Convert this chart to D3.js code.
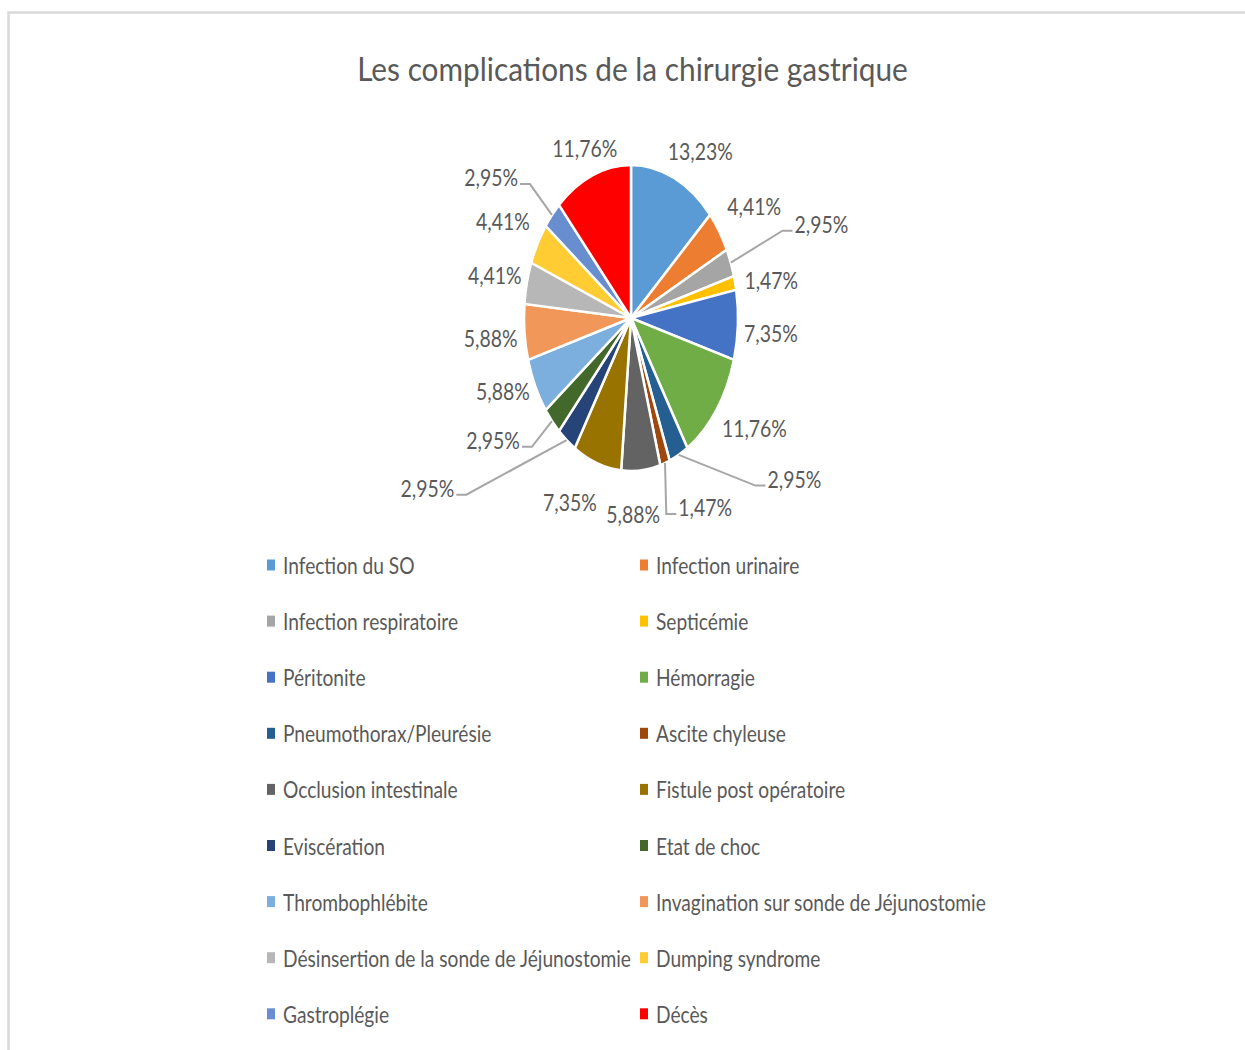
<!DOCTYPE html>
<html><head><meta charset="utf-8">
<script src="https://cdn.jsdelivr.net/npm/d3@7"></script>
<style>body{margin:0;background:#fff;overflow:hidden}</style>
</head><body><svg id="c" width="1245" height="1050"></svg>
<script>
const title = "Les complications de la chirurgie gastrique";
const categories = ["Infection du SO","Infection urinaire","Infection respiratoire","Septicémie","Péritonite","Hémorragie","Pneumothorax/Pleurésie","Ascite chyleuse","Occlusion intestinale","Fistule post opératoire","Eviscération","Etat de choc","Thrombophlébite","Invagination sur sonde de Jéjunostomie","Désinsertion de la sonde de Jéjunostomie","Dumping syndrome","Gastroplégie","Décès"];
const values = [13.23,4.41,2.95,1.47,7.35,11.76,2.95,1.47,5.88,7.35,2.95,2.95,5.88,5.88,4.41,4.41,2.95,11.76];
const colors = ["#5B9BD5","#ED7D31","#A5A5A5","#FFC000","#4472C4","#70AD47","#255E91","#9E480E","#636363","#997300","#264478","#43682B","#7CAFDD","#F1975A","#B7B7B7","#FFCD33","#698ED0","#FF0000"];

// layout (not data)
const labelNudges = [[12,-6],[6,-12],[58,-30],[2,3],[-2,8],[10,6],[100,5],[29,24],[-11,23],[-16,19],[-118,31],[-33,5],[-1,-4],[1,5],[2,-2],[-4,-11],[-35,-22],[5,-6]];
const leaderIdx = [2,6,7,10,11,16];

const svg = d3.select("#c");
const FONT = "Lato, 'Open Sans', sans-serif";
const TXT = "#595959";
const cx = 631, cy = 318, rx = 107, ry = 153;

// frame
svg.append("rect").attr("x",8.5).attr("y",12.5).attr("width",1300).attr("height",1100)
  .attr("fill","#fff").attr("stroke","#d9d9d9").attr("stroke-width",2.5);

function measure(str, size){
  const t = svg.append("text").attr("font-family",FONT).attr("font-size",size).text(str);
  const w = t.node().getComputedTextLength(); t.remove(); return w;
}
const TS = 33, LS = 24, GS = 22.5;
const sxTitle = 551 / measure(title, TS);
const sxLab = 65 / measure("13,23%", LS);
const sxLeg = (127 + 349 + 334) / (measure("Infection du SO", GS) + measure("Désinsertion de la sonde de Jéjunostomie", GS) + measure("Invagination sur sonde de Jéjunostomie", GS));

function addText(parent, str, x, y, size, sx, anchor){
  return parent.append("text").attr("transform",`translate(${x},${y}) scale(${sx},1)`)
    .attr("font-family",FONT).attr("font-size",size).attr("fill",TXT)
    .attr("text-anchor",anchor||"start").text(str);
}

addText(svg, title, 632.5, 81, TS, sxTitle, "middle");

// pie
const pie = d3.pie().sort(null).value(d=>d)(values);
const arc = d3.arc().innerRadius(0).outerRadius(ry);
const g = svg.append("g").attr("transform",`translate(${cx},${cy}) scale(${rx/ry},1)`);
g.selectAll("path").data(pie).join("path")
  .attr("d",arc).attr("fill",(d,i)=>colors[i])
  .attr("stroke","#fff").attr("stroke-width",2.5).attr("vector-effect","non-scaling-stroke");

// labels
const fmt = v => d3.format(".2f")(v).replace(".",",") + "%";
const lab = svg.append("g");
pie.forEach((a,i)=>{
  const th = (a.startAngle+a.endAngle)/2;
  const x = cx + (rx+35)*Math.sin(th) + labelNudges[i][0];
  const y = cy - (ry+22)*Math.cos(th) + labelNudges[i][1];
  const str = fmt(values[i]);
  addText(lab, str, x, y+8, LS, sxLab, "middle");
  if (leaderIdx.includes(i)){
    const w = measure(str, LS)*sxLab;
    const sx0 = cx + rx*Math.sin(th), sy0 = cy - ry*Math.cos(th);
    const right = x > cx;
    const ex = right ? x - w/2 - 2 : x + w/2 + 2;
    const ey = y + 6;
    const elx = right ? ex - 10 : ex + 10;
    lab.append("path").attr("d",`M${sx0},${sy0}L${elx},${ey}L${ex},${ey}`)
      .attr("fill","none").attr("stroke","#a6a6a6").attr("stroke-width",2);
  }
});

// legend
const leg = svg.append("g");
categories.forEach((c,i)=>{
  const col = i%2, row = Math.floor(i/2);
  const mx = col ? 640 : 267;
  const yc = 565 + row*56.1;
  leg.append("rect").attr("x",mx).attr("y",yc-5.5).attr("width",8).attr("height",11).attr("fill",colors[i]);
  addText(leg, c, mx+16, yc+9, GS, sxLeg, "start");
});
</script></body></html>
